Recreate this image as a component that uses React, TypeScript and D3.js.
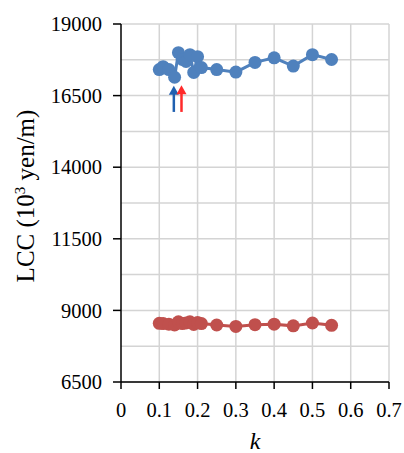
import React from "react";
import * as d3 from "d3";

// k values shared by both series
const kValues = [0.1, 0.11, 0.125, 0.14, 0.15, 0.16, 0.17, 0.18, 0.19, 0.2, 0.21, 0.25, 0.3, 0.35, 0.4, 0.45, 0.5, 0.55];
const blueLCC = [17410, 17510, 17410, 17140, 18000, 17760, 17690, 17930, 17310, 17860, 17480, 17410, 17320, 17660, 17820, 17530, 17930, 17760];
const redLCC = [8550, 8540, 8520, 8490, 8600, 8540, 8560, 8600, 8510, 8580, 8540, 8490, 8440, 8500, 8520, 8460, 8560, 8480];

const yTicks = [6500, 9000, 11500, 14000, 16500, 19000];
const yGrid = d3.range(6500, 19001, 1250);
const xTicks = [0, 0.1, 0.2, 0.3, 0.4, 0.5, 0.6, 0.7];

// annotation arrows: [k, from, to]
const arrows = [
  { k: 0.138, from: 15930, to: 16840, color: "#2060b0" },
  { k: 0.158, from: 15930, to: 16860, color: "#ff2a2a" },
];

const width = 404;
const height = 453;
const left = 121;
const right = 389;
const top = 24;
const bottom = 382;

export default function App() {
  const x = d3.scaleLinear().domain([0, 0.7]).range([left, right]);
  const y = d3.scaleLinear().domain([6500, 19000]).range([bottom, top]);

  const line = d3
    .line<number>()
    .x((d, i) => x(kValues[i]))
    .y((d) => y(d));

  const series = [
    { values: blueLCC, color: "#4f81bd" },
    { values: redLCC, color: "#c0504d" },
  ];

  const font = "'Liberation Serif', 'Times New Roman', serif";

  return (
    <svg width={width} height={height} style={{ position: "absolute", left: 0, top: 0, background: "#fff" }}>
      {/* grid */}
      {yGrid.map((v) => (
        <line key={"gy" + v} x1={left} x2={right} y1={y(v)} y2={y(v)} stroke="#d4d4d4" strokeWidth={1.5} />
      ))}
      {xTicks.slice(1).map((v) => (
        <line key={"gx" + v} x1={x(v)} x2={x(v)} y1={top} y2={bottom} stroke="#d4d4d4" strokeWidth={1.5} />
      ))}
      {/* axes */}
      <line x1={left} x2={left} y1={top} y2={bottom} stroke="#000" strokeWidth={1.5} />
      <line x1={left} x2={right} y1={bottom} y2={bottom} stroke="#000" strokeWidth={1.5} />
      {yTicks.map((v) => (
        <g key={"ty" + v}>
          <line x1={left - 8} x2={left} y1={y(v)} y2={y(v)} stroke="#000" strokeWidth={1.5} />
          <text x={102} y={y(v)} dy="0.35em" textAnchor="end" fontFamily={font} fontSize={20.5}>
            {v}
          </text>
        </g>
      ))}
      {xTicks.map((v) => (
        <g key={"tx" + v}>
          <line x1={x(v)} x2={x(v)} y1={bottom} y2={bottom + 7} stroke="#000" strokeWidth={1.5} />
          <text x={x(v)} y={417} textAnchor="middle" fontFamily={font} fontSize={20.5}>
            {v}
          </text>
        </g>
      ))}
      <text x={(left + right) / 2} y={449} textAnchor="middle" fontFamily={font} fontSize={24} fontStyle="italic">
        k
      </text>
      <text transform={`translate(34,196) rotate(-90)`} textAnchor="middle" fontFamily={font} fontSize={25}>
        LCC (10<tspan dy="-9" fontSize={15}>3</tspan>
        <tspan dy="9"> yen/m)</tspan>
      </text>
      {/* series */}
      {series.map((s, si) => (
        <g key={"s" + si}>
          <path d={line(s.values) || ""} fill="none" stroke={s.color} strokeWidth={3} />
          {s.values.map((v, i) => (
            <circle key={i} cx={x(kValues[i])} cy={y(v)} r={6.5} fill={s.color} />
          ))}
        </g>
      ))}
      {/* arrows */}
      {arrows.map((a, i) => (
        <g key={"a" + i}>
          <line x1={x(a.k)} x2={x(a.k)} y1={y(a.from)} y2={y(a.to) + 4} stroke={a.color} strokeWidth={2.5} />
          <path
            d={`M${x(a.k) - 5},${y(a.to) + 9} L${x(a.k)},${y(a.to)} L${x(a.k) + 5},${y(a.to) + 9} Z`}
            fill={a.color}
          />
        </g>
      ))}
    </svg>
  );
}
